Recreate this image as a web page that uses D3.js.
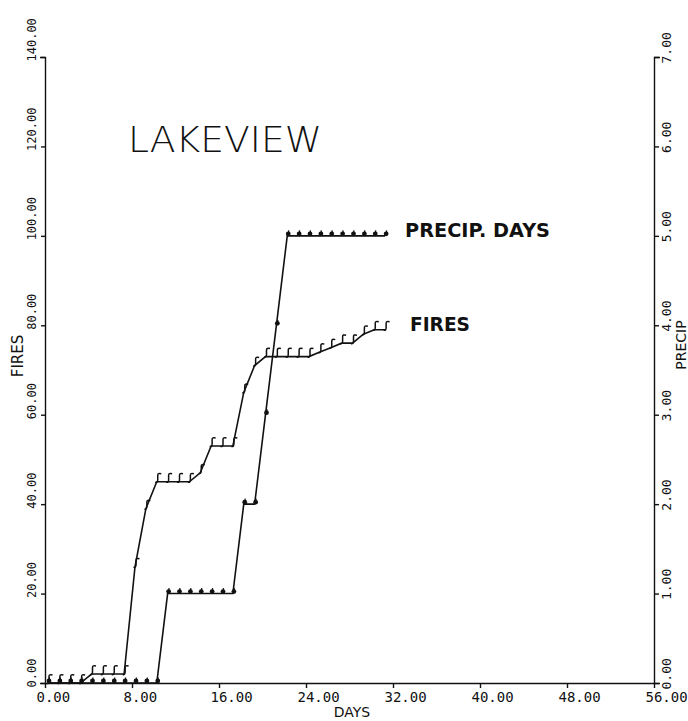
<!DOCTYPE html>
<html>
<head>
<meta charset="utf-8">
<script src="https://cdn.jsdelivr.net/npm/d3@7"></script>
<style>
  body { margin: 0; background: #fff; }
  text { fill: #111; }
</style>
</head>
<body>
<div id="chart"></div>
<script>
// data (cumulative counts per day)
var days = [0, 1, 2, 3, 4, 5, 6, 7, 8, 9, 10, 11, 12, 13, 14, 15,
            16, 17, 18, 19, 20, 21, 22, 23, 24, 25, 26, 27, 28, 29, 30, 31];
var fires = [0, 0, 0, 0, 2, 2, 2, 2, 26, 39, 45, 45, 45, 45, 47, 53,
             53, 53, 65, 71, 73, 73, 73, 73, 73, 74, 75, 76, 76, 78, 79, 79];
var precip = [0, 0, 0, 0, 0, 0, 0, 0, 0, 0, 0, 1, 1, 1, 1, 1,
              1, 1, 2, 2, 3, 4, 5, 5, 5, 5, 5, 5, 5, 5, 5, 5];

var xTicks = [0, 8, 16, 24, 32, 40, 48, 56];
var fireTicks = [0, 20, 40, 60, 80, 100, 120, 140];
var precipTicks = [0, 1, 2, 3, 4, 5, 6, 7];

var width = 688, height = 721;
// plot frame (window.top is reserved, so m-prefixed names)
var mLeft = 45, mRight = 654, mTop = 57, mBottom = 683;
var shift = 3; // plotter drew the points a little right of the day

var svg = d3.select("#chart").append("svg")
  .attr("width", width)
  .attr("height", height)
  .style("background", "#fff");

var x = d3.scaleLinear().domain([0, 56]).range([mLeft, mRight]);
var yF = d3.scaleLinear().domain([0, 140]).range([mBottom, mTop]);
var yP = d3.scaleLinear().domain([0, 7]).range([mBottom, mTop]);

var mono = "'DejaVu Sans Mono', monospace";

// bottom axis
var gx = svg.append("g")
  .attr("transform", "translate(0," + mBottom + ")")
  .call(d3.axisBottom(x).tickValues(xTicks).tickSize(5).tickSizeOuter(0)
    .tickFormat(d3.format(".2f")));
gx.selectAll("text")
  .attr("y", 9).attr("dy", "0.71em")
  .attr("x", -9).attr("text-anchor", "start")
  .style("font-family", mono).style("font-size", "14px");

// left axis
var gl = svg.append("g")
  .attr("transform", "translate(" + mLeft + ",0)")
  .call(d3.axisLeft(yF).tickValues(fireTicks).tickSize(4).tickSizeOuter(5)
    .tickFormat(d3.format(".2f")));
gl.selectAll("text")
  .attr("transform", "rotate(-90)")
  .attr("x", -4).attr("y", -9).attr("dy", 0)
  .attr("text-anchor", "start")
  .style("font-family", mono).style("font-size", "12px");

// right axis
var gr = svg.append("g")
  .attr("transform", "translate(" + mRight + ",0)")
  .call(d3.axisRight(yP).tickValues(precipTicks).tickSize(5).tickSizeOuter(6)
    .tickFormat(d3.format(".2f")));
gr.selectAll("text")
  .attr("transform", "rotate(-90)")
  .attr("x", -6).attr("y", 17).attr("dy", 0)
  .attr("text-anchor", "start")
  .style("font-family", mono).style("font-size", "13px");

svg.selectAll(".domain, .tick line")
  .attr("stroke", "#111").attr("stroke-width", 1.4);

// axis titles
svg.append("text")
  .attr("transform", "translate(23,356) rotate(-90)")
  .attr("text-anchor", "middle")
  .style("font-family", "'DejaVu Sans', sans-serif").style("font-size", "15px")
  .text("FIRES");
svg.append("text")
  .attr("transform", "translate(686,345) rotate(-90)")
  .attr("text-anchor", "middle")
  .style("font-family", "'DejaVu Sans', sans-serif").style("font-size", "14px")
  .text("PRECIP");
svg.append("text")
  .attr("x", 352).attr("y", 717)
  .attr("text-anchor", "middle")
  .style("font-family", "'DejaVu Sans', sans-serif").style("font-size", "14px")
  .text("DAYS");

// title
svg.append("text")
  .attr("x", 128).attr("y", 152)
  .attr("textLength", 194).attr("lengthAdjust", "spacingAndGlyphs")
  .style("font-family", "'DejaVu Sans', sans-serif").style("font-size", "36px")
  .style("font-weight", 200)
  .text("LAKEVIEW");

// series labels
svg.append("text")
  .attr("x", 405).attr("y", 237)
  .attr("textLength", 145).attr("lengthAdjust", "spacingAndGlyphs")
  .style("font-family", "'DejaVu Sans', sans-serif").style("font-size", "19px")
  .style("font-weight", "bold")
  .text("PRECIP. DAYS");
svg.append("text")
  .attr("x", 410).attr("y", 331)
  .attr("textLength", 60).attr("lengthAdjust", "spacingAndGlyphs")
  .style("font-family", "'DejaVu Sans', sans-serif").style("font-size", "19px")
  .style("font-weight", "bold")
  .text("FIRES");

var fireData = days.map(function (d, i) { return { day: d, v: fires[i] }; });
var precipData = days.map(function (d, i) { return { day: d, v: precip[i] }; });

var lineF = d3.line()
  .x(function (d) { return x(d.day) + shift; })
  .y(function (d) { return yF(d.v); });
var lineP = d3.line()
  .x(function (d) { return x(d.day) + shift; })
  .y(function (d) { return yP(d.v); });

svg.append("path").datum(precipData)
  .attr("d", lineP).attr("fill", "none")
  .attr("stroke", "#111").attr("stroke-width", 1.6);
svg.append("path").datum(fireData)
  .attr("d", lineF).attr("fill", "none")
  .attr("stroke", "#111").attr("stroke-width", 1.6);

// precip markers: little filled drops
var pm = svg.append("g").selectAll("g")
  .data(precipData).enter().append("g")
  .attr("transform", function (d) {
    return "translate(" + (x(d.day) + shift) + "," + yP(d.v) + ")";
  });
pm.append("circle").attr("cx", 1).attr("cy", -2).attr("r", 2.4).attr("fill", "#111");
pm.append("path").attr("d", "M1,-2 L1.5,-5.5")
  .attr("stroke", "#111").attr("stroke-width", 1.3);

// fires markers: hooked strokes
svg.append("g").selectAll("path")
  .data(fireData).enter().append("path")
  .attr("transform", function (d) {
    return "translate(" + (x(d.day) + shift) + "," + yF(d.v) + ")";
  })
  .attr("d", "M-1.5,0.5 Q1,1 1,-2 L1,-6.5 Q1,-9 4.5,-8")
  .attr("fill", "none").attr("stroke", "#111").attr("stroke-width", 1.5);
</script>
</body>
</html>
